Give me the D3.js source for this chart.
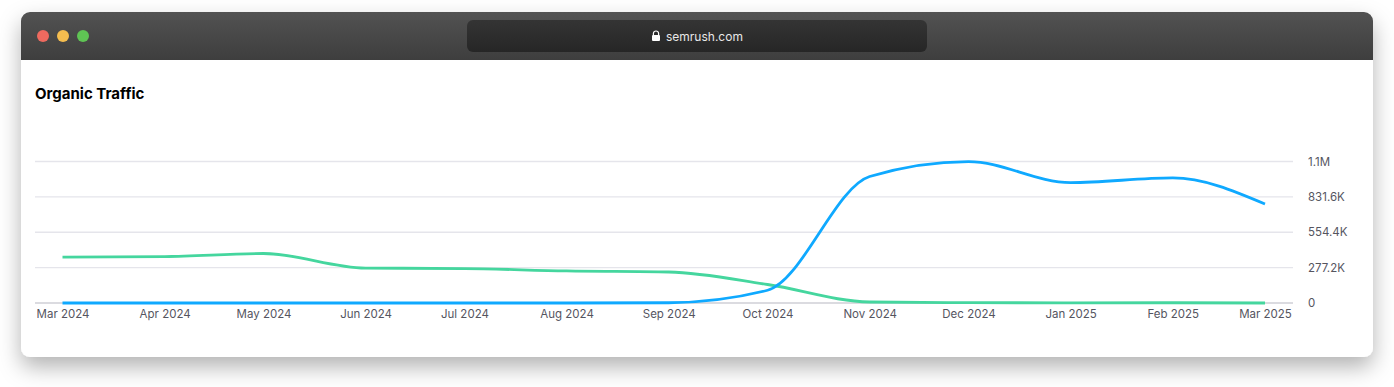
<!DOCTYPE html>
<html>
<head>
<meta charset="utf-8">
<title>Organic Traffic</title>
<script src="https://cdn.jsdelivr.net/npm/d3@7"></script>
<style>
  html, body { margin: 0; background: #fff; overflow: hidden; }
  svg { display: block; font-family: Inter, "Noto Sans", sans-serif; }
</style>
</head>
<body>
<svg id="chart" width="1394" height="387"></svg>
<script>
const months = ["Mar 2024", "Apr 2024", "May 2024", "Jun 2024", "Jul 2024", "Aug 2024", "Sep 2024",
    "Oct 2024", "Nov 2024", "Dec 2024", "Jan 2025", "Feb 2025", "Mar 2025"];
const greenSeries = [360, 364, 388, 274, 270, 251, 243, 145, 8, 3, 1, 2, 0];
const blueSeries = [0, 0, 0, 0, 0, 0, 2, 100, 991, 1108, 944, 980, 776];
const yTicks = [0, 277.2, 554.4, 831.6, 1108.8];
const yLabels = ["0", "277.2K", "554.4K", "831.6K", "1.1M"];

const svg = d3.select("#chart");
const winX = 21, winY = 12, winW = 1352, winH = 345, barH = 48;

const defs = svg.append("defs");
const shadow = defs.append("filter").attr("id", "shadow")
    .attr("x", "-5%").attr("y", "-15%").attr("width", "110%").attr("height", "140%");
shadow.append("feDropShadow").attr("dx", 0).attr("dy", 10).attr("stdDeviation", 11)
    .attr("flood-color", "#000").attr("flood-opacity", 0.3);

const barGrad = defs.append("linearGradient").attr("id", "barGrad").attr("x2", 0).attr("y2", 1);
barGrad.append("stop").attr("offset", 0).attr("stop-color", "#525252");
barGrad.append("stop").attr("offset", 1).attr("stop-color", "#3e3e3e");

const urlGrad = defs.append("linearGradient").attr("id", "urlGrad").attr("x2", 0).attr("y2", 1);
urlGrad.append("stop").attr("offset", 0).attr("stop-color", "#343434");
urlGrad.append("stop").attr("offset", 1).attr("stop-color", "#262626");

defs.append("clipPath").attr("id", "winClip").append("rect")
    .attr("x", winX).attr("y", winY).attr("width", winW).attr("height", winH).attr("rx", 9);

// window frame
svg.append("rect").attr("x", winX).attr("y", winY).attr("width", winW).attr("height", winH)
    .attr("rx", 9).attr("fill", "#fff").attr("filter", "url(#shadow)");
svg.append("rect").attr("x", winX).attr("y", winY).attr("width", winW).attr("height", barH)
    .attr("fill", "url(#barGrad)").attr("clip-path", "url(#winClip)");

const lights = svg.append("g");
[[43, "#ee6a5f"], [63, "#f5bd4f"], [83, "#5fc454"]].forEach(([cx, c]) => {
    lights.append("circle").attr("cx", cx).attr("cy", 36).attr("r", 6).attr("fill", c);
});

// address bar
svg.append("rect").attr("x", 467).attr("y", 20).attr("width", 460).attr("height", 32)
    .attr("rx", 6).attr("fill", "url(#urlGrad)");
const lock = svg.append("g").attr("transform", "translate(656,36)");
lock.append("rect").attr("x", -4).attr("y", -1).attr("width", 8).attr("height", 6).attr("rx", 1).attr("fill", "#fff");
lock.append("path").attr("d", "M-2.6,-1V-2.4a2.6,2.6 0 0 1 5.2,0V-1")
    .attr("fill", "none").attr("stroke", "#fff").attr("stroke-width", 1.2);
svg.append("text").attr("x", 666).attr("y", 40.5).attr("fill", "#e8e8e8")
    .attr("font-size", 12).text("semrush.com");

svg.append("text").attr("x", 35).attr("y", 99).attr("fill", "#000")
    .attr("font-size", 15).attr("font-weight", 700).text("Organic Traffic");

// months sit on a real time axis, so their spacing follows the days in each month
const parseMonth = d3.utcParse("%b %Y");
const dates = months.map(parseMonth);
const x = d3.scaleUtc().domain(d3.extent(dates)).range([62.5, 1265]);
const y = d3.scaleLinear().domain([0, 1108.8]).range([303, 161.5]);

// grid
svg.append("g").selectAll("line").data(yTicks).enter().append("line")
    .attr("x1", 35).attr("x2", 1293)
    .attr("y1", d => y(d)).attr("y2", d => y(d))
    .attr("stroke", d => d === 0 ? "#cfcfd6" : "#e5e5eb")
    .attr("stroke-width", 1.3);

// axes
const yAxis = d3.axisRight(y).tickValues(yTicks)
    .tickFormat((d, i) => yLabels[i]).tickSize(0).tickPadding(0);
const yG = svg.append("g").attr("transform", "translate(1308,0)").call(yAxis);
yG.select(".domain").remove();

const xAxis = d3.axisBottom(x).tickValues(dates)
    .tickFormat(d3.utcFormat("%b %Y")).tickSize(0).tickPadding(10);
const xG = svg.append("g").attr("transform", "translate(0,300)").call(xAxis);
xG.select(".domain").remove();

svg.selectAll(".tick text")
    .attr("fill", "#55555f")
    .style("font-family", "Inter, 'Noto Sans', sans-serif")
    .style("font-size", "11.5px");

// lines
const line = d3.line()
    .x((d, i) => x(dates[i]))
    .y(d => y(d))
    .curve(d3.curveMonotoneX);

[[greenSeries, "#45d69e"], [blueSeries, "#0fa9ff"]].forEach(([values, color]) => {
    svg.append("path").datum(values)
        .attr("d", line)
        .attr("fill", "none")
        .attr("stroke", color)
        .attr("stroke-width", 2.8);
});
</script>
</body>
</html>
